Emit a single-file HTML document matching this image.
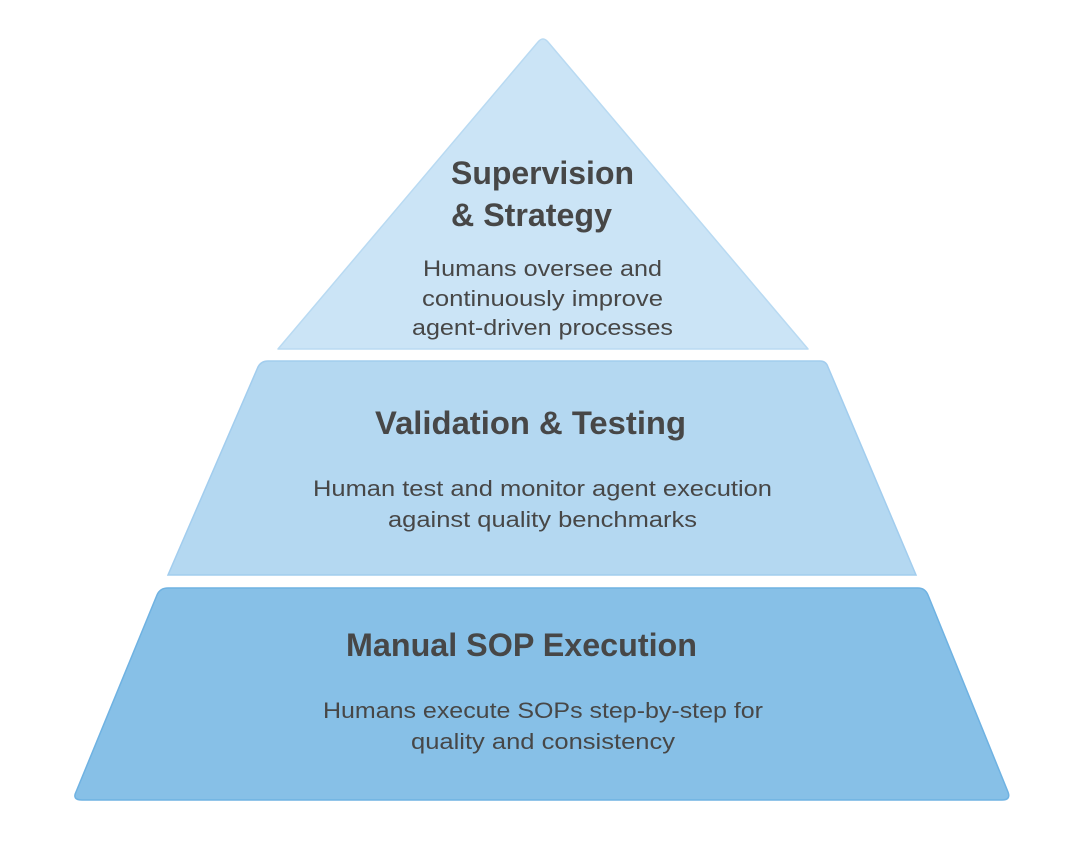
<!DOCTYPE html>
<html><head><meta charset="utf-8"><style>
body{margin:0;background:#fff;}
svg text{font-family:"Liberation Sans",sans-serif;fill:#474747;text-anchor:middle;}
.t{font-size:32px;font-weight:bold;}
.b{font-size:22px;}
</style></head><body>
<svg width="1076" height="848" viewBox="0 0 1076 848" xmlns="http://www.w3.org/2000/svg">
<path d="M538,42 Q543,36 548,42 L808,349 L278,349 Z" fill="#cbe4f6" stroke="#b9daf2" stroke-width="1.5" stroke-linejoin="round"/>
<path d="M268,361 L820,361 Q826,361 828,367 L916,575 L168,575 L258,367 Q261,361 268,361 Z" fill="#b4d8f1" stroke="#a2cdee" stroke-width="1.5"/>
<path d="M168,588 L918,588 Q925,588 928,595 L1008,792 Q1011,800 1002,800 L82,800 Q72,800 76,792 L157,595 Q160,588 168,588 Z" fill="#87c0e7" stroke="#6fb2e2" stroke-width="1.5"/>
<text class="t" x="542.5" y="184" textLength="183" lengthAdjust="spacingAndGlyphs">Supervision</text>
<text class="t" x="531.5" y="226" textLength="161" lengthAdjust="spacingAndGlyphs">&amp; Strategy</text>
<text class="b" x="542.5" y="276" textLength="239" lengthAdjust="spacingAndGlyphs">Humans oversee and</text>
<text class="b" x="542.5" y="306" textLength="241" lengthAdjust="spacingAndGlyphs">continuously improve</text>
<text class="b" x="542.5" y="335" textLength="261" lengthAdjust="spacingAndGlyphs">agent-driven processes</text>
<text class="t" x="530.5" y="434" textLength="311" lengthAdjust="spacingAndGlyphs">Validation &amp; Testing</text>
<text class="b" x="542.5" y="496" textLength="459" lengthAdjust="spacingAndGlyphs">Human test and monitor agent execution</text>
<text class="b" x="542.5" y="527" textLength="309" lengthAdjust="spacingAndGlyphs">against quality benchmarks</text>
<text class="t" x="521.5" y="656" textLength="351" lengthAdjust="spacingAndGlyphs">Manual SOP Execution</text>
<text class="b" x="543" y="718" textLength="440" lengthAdjust="spacingAndGlyphs">Humans execute SOPs step-by-step for</text>
<text class="b" x="543" y="749" textLength="264" lengthAdjust="spacingAndGlyphs">quality and consistency</text>
</svg>
</body></html>
